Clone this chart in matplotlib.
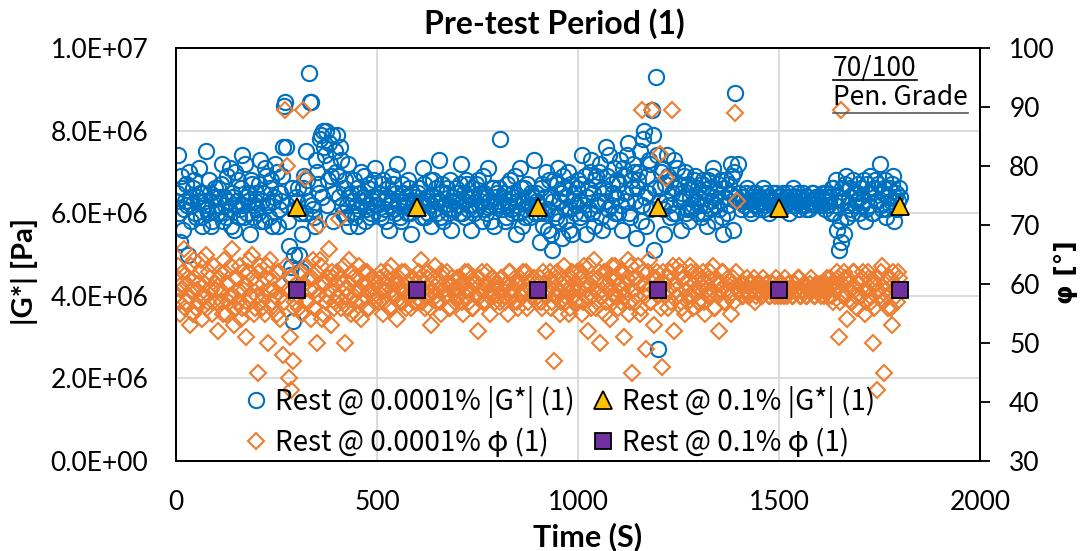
import numpy as np
import matplotlib
matplotlib.use('Agg')
import matplotlib.pyplot as plt
from matplotlib.lines import Line2D
from matplotlib.ticker import FuncFormatter

# sample clock of the strain sweep (two interleaved readings every 5 s)
time_a = np.arange(0, 1801, 5)
time_b = np.arange(2.5, 1800, 5)

# |G*| at 0.0001 % strain, in MPa (x1e6 Pa)
g_small_a = [
    6.3, 7.4, 5.3, 6.6, 6.1, 6.7, 5.0, 6.4, 6.2, 6.8, 5.9, 6.3, 6.5, 5.7, 6.2, 7.5, 6.0, 6.5, 5.8, 6.4,
    6.2, 6.6, 6.0, 7.2, 6.4, 5.9, 6.3, 7.1, 6.5, 5.6, 6.2, 6.8, 6.1, 7.4, 5.9, 6.4, 6.3, 5.5, 6.7, 6.2,
    6.5, 6.0, 7.3, 6.3, 5.8, 6.9, 6.2, 6.6, 5.7, 6.4, 7.0, 6.1, 6.3, 7.6, 8.7, 6.2, 5.2, 4.7, 3.4, 6.1,
    6.3, 5.0, 4.6, 6.6, 6.0, 6.8, 9.4, 8.7, 6.1, 5.7, 7.0, 6.5, 7.9, 8.0, 7.4, 6.2, 7.7, 6.9, 5.8, 7.5,
    7.9, 6.4, 7.3, 6.0, 6.8, 6.2, 5.7, 6.5, 6.3, 5.9, 6.6, 6.1, 7.0, 6.4, 5.8, 6.2, 6.7, 6.0, 6.3, 7.1,
    6.2, 6.5, 5.9, 6.8, 6.1, 6.4, 5.6, 6.3, 6.7, 6.0, 7.2, 6.2, 5.8, 6.5, 6.3, 6.0, 6.6, 5.5, 6.2, 6.4,
    6.1, 6.6, 6.3, 7.1, 5.9, 6.4, 6.2, 5.7, 6.8, 6.3, 6.0, 7.3, 6.5, 5.8, 6.2, 6.6, 6.1, 5.6, 6.4, 6.3,
    6.5, 6.0, 7.2, 6.3, 5.9, 6.7, 6.2, 5.6, 6.4, 6.1, 6.8, 6.3, 5.8, 6.5, 6.0, 7.1, 6.2, 6.6, 5.7, 6.4,
    6.3, 7.8, 6.1, 6.5, 5.9, 6.2, 6.8, 6.0, 6.4, 5.5, 6.3, 7.1, 5.7, 6.6, 6.1, 6.4, 5.9, 6.2, 7.3, 6.5,
    6.2, 5.3, 6.7, 6.0, 7.0, 5.6, 6.4, 5.1, 6.8, 5.9, 7.1, 6.3, 5.4, 6.6, 5.8, 7.0, 6.1, 5.5, 6.5, 6.2,
    6.8, 5.9, 7.4, 6.2, 5.5, 6.6, 7.0, 6.0, 5.7, 6.9, 6.3, 7.2, 5.6, 6.5, 7.6, 6.1, 5.8, 6.7, 7.1, 6.4,
    6.0, 7.3, 5.6, 6.9, 6.3, 7.7, 5.9, 6.6, 7.0, 5.4, 6.8, 7.5, 6.2, 8.0, 5.7, 6.5, 7.2, 8.5, 5.1, 9.3,
    2.7, 6.6, 7.1, 5.5, 6.3, 6.9, 5.9, 6.5, 7.3, 6.0, 6.7, 5.6, 6.4, 7.0, 6.1, 5.8, 6.6, 6.2, 6.9, 6.0,
    6.4, 5.9, 6.8, 6.2, 5.7, 6.6, 6.3, 7.1, 5.8, 6.5, 6.1, 6.8, 5.5, 6.4, 6.0, 6.7, 7.2, 5.6, 8.9, 6.3,
    6.5, 6.1, 6.4, 6.2, 6.6, 6.3, 6.0, 6.5, 6.2, 6.4, 6.1, 6.3, 6.6, 6.2, 6.4, 6.0, 6.3, 6.5, 6.2, 6.4,
    6.3, 6.1, 6.5, 6.2, 6.4, 6.0, 6.3, 6.6, 6.2, 6.4, 6.1, 6.3, 6.5, 6.2, 6.4, 6.1, 6.3, 6.5, 6.2, 6.4,
    6.3, 6.2, 6.5, 6.1, 6.4, 6.3, 6.0, 6.6, 6.2, 5.6, 5.1, 5.3, 6.3, 6.7, 5.9, 6.4, 6.1, 6.8, 6.2, 6.5,
    6.0, 6.6, 6.3, 5.8, 6.7, 6.2, 6.5, 6.0, 6.8, 6.3, 7.2, 6.1, 6.6, 5.9, 6.4, 6.2, 6.7, 5.8, 6.5, 6.3,
    6.4,
]
g_small_b = [
    6.5, 6.0, 6.9, 5.6, 6.3, 6.2, 7.0, 5.8, 6.6, 6.0, 6.4, 7.1, 5.9, 6.5, 6.3, 6.1, 6.8, 5.7, 6.4, 6.6,
    6.0, 6.4, 6.7, 5.8, 6.2, 6.9, 6.1, 5.7, 6.4, 7.0, 6.3, 5.9, 6.6, 6.2, 7.2, 6.0, 6.5, 6.8, 5.9, 6.3,
    6.1, 6.7, 5.8, 6.5, 7.1, 6.2, 5.9, 6.8, 6.3, 7.2, 5.7, 6.5, 6.9, 8.6, 7.6, 5.8, 4.5, 6.6, 5.0, 6.4,
    6.6, 6.0, 5.5, 6.9, 7.5, 6.3, 8.7, 6.2, 5.9, 7.3, 6.7, 7.8, 6.4, 7.6, 8.0, 6.8, 7.2, 7.9, 6.5, 7.0,
    6.9, 7.6, 6.2, 6.6, 5.9, 7.2, 6.4, 6.0, 6.8, 6.2, 5.7, 6.5, 6.3, 6.9, 6.1, 6.6, 5.9, 6.4, 6.8, 6.2,
    6.4, 6.0, 6.7, 6.3, 5.8, 6.6, 6.2, 6.9, 6.1, 6.5, 6.3, 5.9, 6.7, 6.2, 6.4, 6.8, 6.0, 6.5, 6.3, 6.1,
    6.5, 6.2, 5.9, 6.7, 6.3, 6.0, 6.8, 6.4, 6.1, 6.6, 6.3, 5.9, 6.7, 6.2, 6.5, 6.0, 6.8, 6.3, 6.1, 6.6,
    6.2, 6.7, 6.0, 6.5, 6.8, 6.1, 6.4, 6.6, 6.0, 6.7, 6.2, 6.5, 6.9, 6.1, 6.4, 6.3, 5.8, 6.6, 6.2, 6.5,
    6.6, 6.2, 6.4, 5.8, 6.7, 6.3, 6.1, 6.5, 6.9, 6.2, 6.0, 6.6, 6.3, 5.9, 6.7, 6.2, 6.5, 6.4, 6.0, 6.3,
    6.0, 6.6, 5.7, 6.4, 6.1, 6.8, 5.5, 6.3, 6.0, 6.7, 5.8, 6.5, 6.9, 6.1, 6.4, 5.6, 6.7, 6.3, 6.0, 6.6,
    6.3, 6.7, 6.0, 6.9, 6.4, 6.1, 7.3, 6.5, 6.8, 6.2, 7.0, 5.9, 6.6, 6.3, 6.9, 7.4, 6.2, 6.5, 6.0, 6.8,
    6.7, 6.2, 7.1, 6.5, 7.4, 6.0, 6.8, 7.2, 6.3, 6.6, 7.0, 5.8, 7.8, 6.4, 6.9, 7.3, 6.1, 7.9, 6.6, 7.4,
    6.3, 7.0, 6.1, 6.7, 7.4, 6.2, 6.8, 6.0, 6.6, 7.1, 6.3, 6.5, 6.9, 6.0, 6.7, 6.4, 6.1, 6.8, 6.3, 6.6,
    6.2, 6.7, 6.0, 6.5, 6.8, 6.1, 6.9, 6.4, 6.2, 6.7, 6.3, 5.9, 6.6, 6.8, 6.2, 6.5, 6.9, 7.0, 6.4, 7.2,
    6.3, 6.4, 6.2, 6.5, 6.3, 6.1, 6.4, 6.3, 6.5, 6.2, 6.4, 6.3, 6.1, 6.5, 6.3, 6.4, 6.2, 6.3, 6.5, 6.2,
    6.4, 6.3, 6.2, 6.4, 6.5, 6.3, 6.2, 6.4, 6.3, 6.5, 6.2, 6.4, 6.3, 6.1, 6.4, 6.3, 6.5, 6.2, 6.4, 6.3,
    6.2, 6.4, 6.3, 6.5, 6.2, 6.4, 6.6, 6.0, 6.8, 6.4, 5.8, 6.6, 5.5, 6.9, 6.2, 6.6, 6.0, 6.5, 6.3, 6.7,
    6.4, 6.2, 6.8, 6.1, 6.5, 6.9, 6.0, 6.6, 6.3, 6.7, 6.2, 6.5, 6.8, 6.1, 6.6, 6.3, 6.9, 6.4, 6.1, 6.6,
]

# phase angle at 0.0001 % strain, degrees
phi_small_a = [
    58, 63, 55, 60, 66, 57, 61, 53, 59, 64, 56, 60, 62, 54, 58, 65, 57, 61, 55, 63,
    59, 52, 62, 57, 64, 55, 60, 58, 66, 53, 61, 57, 63, 56, 59, 51, 62, 58, 65, 55,
    60, 45, 63, 56, 58, 61, 50, 64, 57, 59, 55, 62, 58, 48, 89.5, 80, 44, 42, 47, 57,
    60, 56, 62, 89.5, 78, 57, 61, 54, 64, 59, 50, 70, 63, 55, 60, 58, 66, 53, 61, 57,
    62, 71, 56, 60, 50, 58, 64, 55, 61, 57, 59, 63, 54, 60, 58, 62, 56, 59, 61, 57,
    60, 57, 62, 55, 59, 61, 56, 63, 58, 60, 54, 61, 59, 57, 62, 58, 60, 56, 61, 59,
    57, 62, 64, 59, 56, 61, 58, 53, 60, 63, 57, 59, 55, 61, 58, 62, 56, 60, 59, 57,
    61, 58, 60, 55, 62, 59, 57, 61, 56, 60, 52, 58, 62, 59, 57, 60, 55, 61, 58, 60,
    59, 57, 61, 58, 60, 55, 62, 59, 57, 60, 56, 61, 58, 59, 62, 57, 60, 58, 61, 59,
    58, 61, 56, 60, 52, 59, 62, 57, 47, 61, 58, 55, 60, 63, 57, 59, 56, 62, 58, 60,
    57, 61, 55, 63, 59, 52, 60, 58, 64, 56, 61, 50, 59, 62, 57, 60, 54, 63, 58, 61,
    56, 62, 59, 51, 60, 64, 57, 45, 61, 58, 63, 55, 89.5, 60, 49, 62, 57, 89.5, 53, 61,
    58, 82, 46, 60, 78, 56, 62, 89.5, 52, 59, 63, 57, 61, 55, 60, 58, 62, 56, 59, 61,
    57, 60, 62, 55, 59, 61, 58, 63, 56, 60, 52, 59, 62, 57, 60, 58, 55, 61, 89, 74,
    59, 60, 58, 59, 61, 58, 60, 59, 57, 60, 59, 58, 61, 59, 60, 58, 59, 60, 58, 59,
    60, 58, 59, 61, 58, 60, 59, 58, 60, 59, 61, 58, 59, 60, 58, 59, 61, 59, 58, 60,
    59, 58, 60, 59, 61, 58, 60, 57, 59, 62, 51, 89.5, 58, 61, 54, 60, 57, 62, 59, 56,
    60, 58, 62, 55, 59, 61, 57, 50, 60, 42, 58, 63, 45, 59, 56, 61, 53, 60, 58, 62,
    59,
]
phi_small_b = [
    61, 57, 59, 62, 56, 60, 58, 63, 55, 61, 59, 57, 64, 58, 60, 56, 62, 59, 57, 60,
    57, 61, 59, 55, 62, 60, 57, 63, 58, 56, 61, 59, 54, 62, 60, 57, 64, 58, 61, 56,
    58, 62, 57, 60, 55, 63, 59, 56, 61, 58, 62, 54, 60, 57, 63, 59, 51, 61, 56, 60,
    58, 62, 55, 60, 63, 57, 59, 61, 56, 62, 58, 64, 54, 60, 57, 61, 59, 62, 56, 60,
    58, 61, 57, 63, 59, 56, 60, 62, 58, 55, 61, 59, 57, 62, 60, 56, 59, 61, 58, 60,
    58, 61, 59, 57, 60, 62, 56, 59, 61, 58, 60, 57, 62, 59, 56, 60, 58, 61, 57, 60,
    59, 61, 57, 60, 58, 62, 56, 59, 61, 58, 60, 57, 62, 59, 58, 60, 56, 61, 59, 58,
    59, 61, 57, 60, 58, 62, 59, 56, 60, 58, 61, 59, 57, 60, 62, 58, 59, 61, 57, 60,
    58, 61, 59, 57, 60, 62, 58, 59, 61, 57, 60, 58, 62, 59, 56, 61, 59, 58, 60, 57,
    60, 57, 62, 58, 59, 61, 56, 60, 58, 62, 59, 57, 61, 58, 60, 55, 61, 59, 57, 62,
    59, 62, 57, 60, 58, 63, 56, 61, 59, 57, 62, 58, 60, 55, 62, 59, 61, 57, 63, 58,
    60, 57, 62, 58, 61, 55, 63, 59, 57, 61, 60, 56, 62, 58, 59, 64, 57, 61, 59, 62,
    60, 56, 62, 58, 61, 59, 57, 63, 60, 58, 62, 56, 61, 59, 57, 63, 58, 60, 62, 57,
    59, 61, 57, 60, 58, 62, 59, 56, 61, 58, 60, 62, 57, 59, 61, 58, 60, 57, 62, 59,
    59, 58, 60, 59, 58, 60, 59, 61, 58, 59, 60, 58, 59, 60, 59, 58, 60, 59, 61, 58,
    59, 60, 58, 59, 60, 59, 58, 60, 59, 61, 58, 59, 60, 58, 59, 60, 59, 58, 60, 59,
    60, 59, 58, 60, 59, 61, 58, 60, 59, 61, 57, 60, 62, 58, 61, 59, 57, 62, 58, 60,
    58, 61, 59, 57, 62, 58, 60, 56, 61, 59, 62, 57, 60, 58, 61, 56, 62, 59, 57, 61,
]

# 0.1 % strain checkpoints
time_big = [300, 600, 900, 1200, 1500, 1800]
g_big = [6.15, 6.15, 6.15, 6.15, 6.12, 6.17]
phi_big = [58.9, 58.9, 58.9, 58.9, 58.9, 58.9]

fig = plt.figure(figsize=(10.86, 5.51), dpi=100)
ax1 = fig.add_axes([176 / 1086, 1 - 461 / 551, 804 / 1086, 413 / 551])
ax2 = ax1.twinx()
ax3 = ax1.twinx()
ax4 = ax1.twinx()

cjk = ['Noto Sans CJK JP', 'DejaVu Sans']
blue_kw = dict(ls='none', marker='o', ms=11, mfc='none', mec='#0070C0', mew=1.5)
orange_kw = dict(ls='none', marker='D', ms=8, mfc='none', mec='#ED7D31', mew=1.5)

h1, = ax1.plot(time_a, np.array(g_small_a) * 1e6, label='Rest @ 0.0001% |G*| (1)', **blue_kw)
ax1.plot(time_b, np.array(g_small_b) * 1e6, **blue_kw)
h2, = ax2.plot(time_a, phi_small_a, label='Rest @ 0.0001% φ (1)', **orange_kw)
ax2.plot(time_b, phi_small_b, **orange_kw)
h3, = ax3.plot(time_big, np.array(g_big) * 1e6, ls='none', marker='^', ms=13,
               mfc='#FFC000', mec='black', mew=1.3, label='Rest @ 0.1% |G*| (1)')
h4, = ax4.plot(time_big, phi_big, ls='none', marker='s', ms=12,
               mfc='#7030A0', mec='black', mew=1.3, label='Rest @ 0.1% φ (1)')

ax1.set_xlim(0, 2000)
ax1.set_ylim(0, 1e7)
ax3.set_ylim(0, 1e7)
ax2.set_ylim(30, 100)
ax4.set_ylim(30, 100)
ax1.set_xticks([0, 500, 1000, 1500, 2000])
ax1.set_yticks(np.arange(0, 1.01e7, 2e6))
ax2.set_yticks(np.arange(30, 101, 10))
ax1.yaxis.set_major_formatter(FuncFormatter(lambda v, p: '{:.1E}'.format(v)))
ax3.set_axis_off()
ax4.set_axis_off()

ax1.grid(True, color='#d9d9d9', lw=1.3)
ax1.set_axisbelow(True)
for ax in (ax1, ax2):
    for s in ax.spines.values():
        s.set_color('black')
        s.set_linewidth(1.3)

ax1.tick_params(axis='y', length=0, pad=20)
ax1.tick_params(axis='x', length=0, pad=21)
ax2.tick_params(axis='y', length=7, width=1.3, direction='out', pad=14)
for lab in ax1.get_xticklabels() + ax1.get_yticklabels() + ax2.get_yticklabels():
    lab.set_fontfamily('Lato')
    lab.set_fontsize(19)

ax1.set_xlabel('Time (S)', fontfamily='Lato', fontsize=22, fontweight='bold')
ax1.xaxis.set_label_coords(0.512, -0.148)
ax1.set_ylabel('|G*| [Pa]', fontfamily='Lato', fontsize=21, fontweight='bold')
ax1.yaxis.set_label_coords(-0.172, 0.458)
ax2.set_ylabel('φ [°]', fontfamily='DejaVu Sans', fontsize=18, fontweight='bold', rotation=90)
ax2.yaxis.set_label_coords(1.092, 0.458)

fig.text(554 / 1086, 1 - 24 / 551, 'Pre-test Period (1)', ha='center', va='center',
         fontfamily='Lato', fontsize=23, fontweight='bold')

leg = ax4.legend(handles=[h1, h2, h3, h4], ncol=2, loc='upper left',
                 bbox_to_anchor=(242 / 1086, 1 - 386 / 551), bbox_transform=fig.transFigure,
                 frameon=False, prop=dict(family=cjk, size=20), handlelength=1.0,
                 handletextpad=0.2, columnspacing=0.5, labelspacing=0.35,
                 borderpad=0, borderaxespad=0)

# grade note with underlines
t1 = fig.text(833 / 1086, 1 - 76 / 551, '70/100', ha='left', va='baseline',
              fontfamily=cjk, fontsize=19)
t2 = fig.text(833 / 1086, 1 - 105 / 551, 'Pen. Grade', ha='left', va='baseline',
              fontfamily=cjk, fontsize=19)
fig.canvas.draw()
r = fig.canvas.get_renderer()
for t, y_px, col in ((t1, 80, 'black'), (t2, 113, '#595959')):
    bb = t.get_window_extent(r)
    fig.add_artist(Line2D([bb.x0 / 1086, bb.x1 / 1086], [1 - y_px / 551] * 2,
                          transform=fig.transFigure, color=col, lw=1.2))

fig.savefig('out.png', dpi=100)
